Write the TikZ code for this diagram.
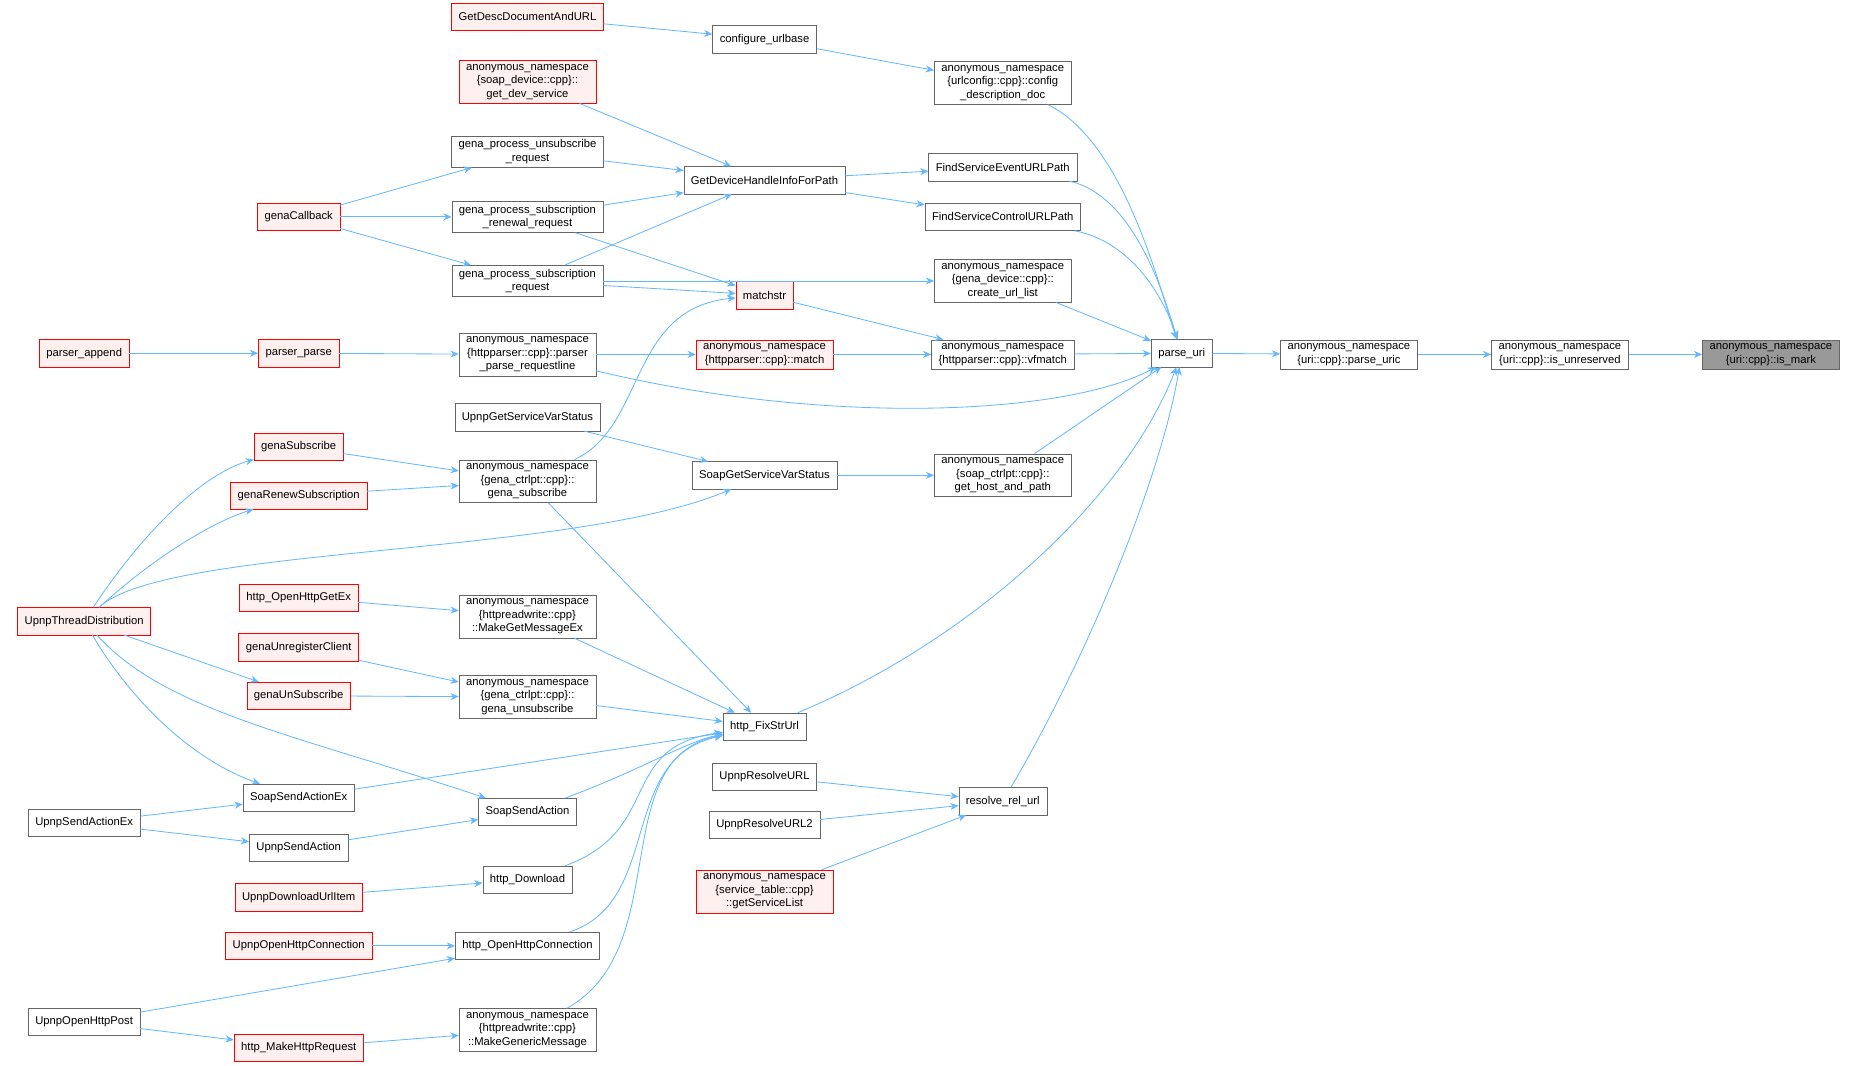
\documentclass[tikz,border=0pt]{standalone}
\usepackage{fontspec}
\setmainfont{Liberation Sans}
\usetikzlibrary{arrows.meta}
\definecolor{eb}{HTML}{63B8FF}
\definecolor{bd}{HTML}{666666}
\begin{document}
\begin{tikzpicture}[x=1pt,y=-1pt,
  n/.style={draw=bd,fill=white,rectangle,align=center,font=\fontsize{9.5}{11.5}\selectfont,inner xsep=6pt,inner ysep=3pt,minimum height=23pt},
  r/.style={n,draw=red,fill=red!6},
  g/.style={n,fill=black!40},
  e/.style={draw=eb,-{Stealth[length=7pt,width=6pt]},line width=0.7pt}]
\useasboundingbox (0,0) rectangle (1565,899);
\node[g] (ismark) at (1494,299) {anonymous\_namespace\\\{uri::cpp\}::is\_mark};
\node[n] (isunres) at (1316,299) {anonymous\_namespace\\\{uri::cpp\}::is\_unreserved};
\node[n] (uric) at (1138,299) {anonymous\_namespace\\\{uri::cpp\}::parse\_uric};
\node[n] (puri) at (997,298) {parse\_uri};
\node[n] (cdd) at (846,70) {anonymous\_namespace\\\{urlconfig::cpp\}::config\\\_description\_doc};
\node[n] (fse) at (846,141) {FindServiceEventURLPath};
\node[n] (fsc) at (846,183) {FindServiceControlURLPath};
\node[n] (cul) at (846,237) {anonymous\_namespace\\\{gena\_device::cpp\}::\\create\_url\_list};
\node[n] (vfm) at (846,299) {anonymous\_namespace\\\{httpparser::cpp\}::vfmatch};
\node[n] (ghp) at (846,401) {anonymous\_namespace\\\{soap\_ctrlpt::cpp\}::\\get\_host\_and\_path};
\node[n] (rru) at (846,676) {resolve\_rel\_url};
\node[n] (fix) at (645,613) {http\_FixStrUrl};
\node[n] (rurl) at (645,655) {UpnpResolveURL};
\node[n] (rurl2) at (645,696) {UpnpResolveURL2};
\node[r] (gsl) at (645,752) {anonymous\_namespace\\\{service\_table::cpp\}\\::getServiceList};
\node[n] (cub) at (645,33) {configure\_urlbase};
\node[n] (gdh) at (645,152) {GetDeviceHandleInfoForPath};
\node[r] (mstr) at (645,249) {matchstr};
\node[r] (hmatch) at (645,299) {anonymous\_namespace\\\{httpparser::cpp\}::match};
\node[n] (sgs) at (645,401) {SoapGetServiceVarStatus};
\node[r] (gdd) at (445,14) {GetDescDocumentAndURL};
\node[r] (gds) at (445,69) {anonymous\_namespace\\\{soap\_device::cpp\}::\\get\_dev\_service};
\node[n] (gpu) at (445,128) {gena\_process\_unsubscribe\\\_request};
\node[n] (gpr) at (445,183) {gena\_process\_subscription\\\_renewal\_request};
\node[n] (gps) at (445,237) {gena\_process\_subscription\\\_request};
\node[n] (ppr) at (445,299) {anonymous\_namespace\\\{httpparser::cpp\}::parser\\\_parse\_requestline};
\node[n] (ugs) at (445,352) {UpnpGetServiceVarStatus};
\node[n] (gsub) at (445,406) {anonymous\_namespace\\\{gena\_ctrlpt::cpp\}::\\gena\_subscribe};
\node[n] (mgm) at (445,520) {anonymous\_namespace\\\{httpreadwrite::cpp\}\\::MakeGetMessageEx};
\node[n] (gun) at (445,588) {anonymous\_namespace\\\{gena\_ctrlpt::cpp\}::\\gena\_unsubscribe};
\node[n] (ssa) at (445,685) {SoapSendAction};
\node[n] (hdl) at (445,742) {http\_Download};
\node[n] (hoc) at (445,798) {http\_OpenHttpConnection};
\node[n] (mgen) at (445,869) {anonymous\_namespace\\\{httpreadwrite::cpp\}\\::MakeGenericMessage};
\node[r] (gcb) at (252,183) {genaCallback};
\node[r] (pp) at (252,298) {parser\_parse};
\node[r] (gsu) at (252,377) {genaSubscribe};
\node[r] (grs) at (252,418) {genaRenewSubscription};
\node[r] (hog) at (252,504) {http\_OpenHttpGetEx};
\node[r] (guc) at (252,546) {genaUnregisterClient};
\node[r] (gus) at (252,587) {genaUnSubscribe};
\node[n] (ssax) at (252,673) {SoapSendActionEx};
\node[n] (usa) at (252,715) {UpnpSendAction};
\node[r] (udu) at (252,757) {UpnpDownloadUrlItem};
\node[r] (uoc) at (252,798) {UpnpOpenHttpConnection};
\node[r] (hmr) at (252,884) {http\_MakeHttpRequest};
\node[r] (pa) at (71,298) {parser\_append};
\node[r] (utd) at (71,524) {UpnpThreadDistribution};
\node[n] (usax) at (71,694) {UpnpSendActionEx};
\node[n] (uop) at (71,862) {UpnpOpenHttpPost};

\draw[e] (isunres) -- (ismark);
\draw[e] (uric) -- (isunres);
\draw[e] (puri) -- (uric);
\draw[e] (cdd) .. controls (950,120) and (980,250) .. (puri);
\draw[e] (fse) .. controls (960,165) and (985,260) .. (puri);
\draw[e] (fsc) .. controls (960,205) and (985,260) .. (puri);
\draw[e] (cul) -- (puri);
\draw[e] (vfm) -- (puri);
\draw[e] (ghp) -- (puri);
\draw[e] (rru) .. controls (920,550) and (980,400) .. (puri);
\draw[e] (fix) .. controls (820,540) and (950,420) .. (puri);
\draw[e] (ppr) .. controls (700,360) and (900,350) .. (puri);
\draw[e] (cub) -- (cdd);
\draw[e] (gdd) -- (cub);
\draw[e] (gdh) -- (fse);
\draw[e] (gdh) -- (fsc);
\draw[e] (gps) -- (cul);
\draw[e] (mstr) -- (vfm);
\draw[e] (hmatch) -- (vfm);
\draw[e] (sgs) -- (ghp);
\draw[e] (rurl) -- (rru);
\draw[e] (rurl2) -- (rru);
\draw[e] (gsl) -- (rru);
\draw[e] (gds) -- (gdh);
\draw[e] (gpu) -- (gdh);
\draw[e] (gpr) -- (gdh);
\draw[e] (gps) -- (gdh);
\draw[e] (gpr) -- (mstr);
\draw[e] (gps) -- (mstr);
\draw[e] (gsub) .. controls (545,360) and (530,260) .. (mstr);
\draw[e] (ppr) -- (hmatch);
\draw[e] (ugs) -- (sgs);
\draw[e] (utd) .. controls (140,460) and (480,470) .. (sgs);
\draw[e] (gsub) -- (fix);
\draw[e] (mgm) -- (fix);
\draw[e] (gun) -- (fix);
\draw[e] (ssax) -- (fix);
\draw[e] (ssa) .. controls (540,650) and (580,625) .. (fix);
\draw[e] (hdl) .. controls (560,700) and (520,630) .. (fix);
\draw[e] (hoc) .. controls (560,760) and (520,640) .. (fix);
\draw[e] (mgen) .. controls (570,800) and (510,640) .. (fix);
\draw[e] (gcb) -- (gpu);
\draw[e] (gcb) -- (gpr);
\draw[e] (gcb) -- (gps);
\draw[e] (pp) -- (ppr);
\draw[e] (pa) -- (pp);
\draw[e] (gsu) -- (gsub);
\draw[e] (grs) -- (gsub);
\draw[e] (hog) -- (mgm);
\draw[e] (guc) -- (gun);
\draw[e] (gus) -- (gun);
\draw[e] (utd) .. controls (120,450) and (170,400) .. (gsu);
\draw[e] (utd) .. controls (130,470) and (180,440) .. (grs);
\draw[e] (utd) -- (gus);
\draw[e] (utd) .. controls (110,590) and (160,640) .. (ssax);
\draw[e] (utd) .. controls (140,600) and (250,620) .. (ssa);
\draw[e] (usax) -- (ssax);
\draw[e] (usax) -- (usa);
\draw[e] (usa) -- (ssa);
\draw[e] (udu) -- (hdl);
\draw[e] (uoc) -- (hoc);
\draw[e] (uop) -- (hoc);
\draw[e] (uop) -- (hmr);
\draw[e] (hmr) -- (mgen);
\end{tikzpicture}
\end{document}
